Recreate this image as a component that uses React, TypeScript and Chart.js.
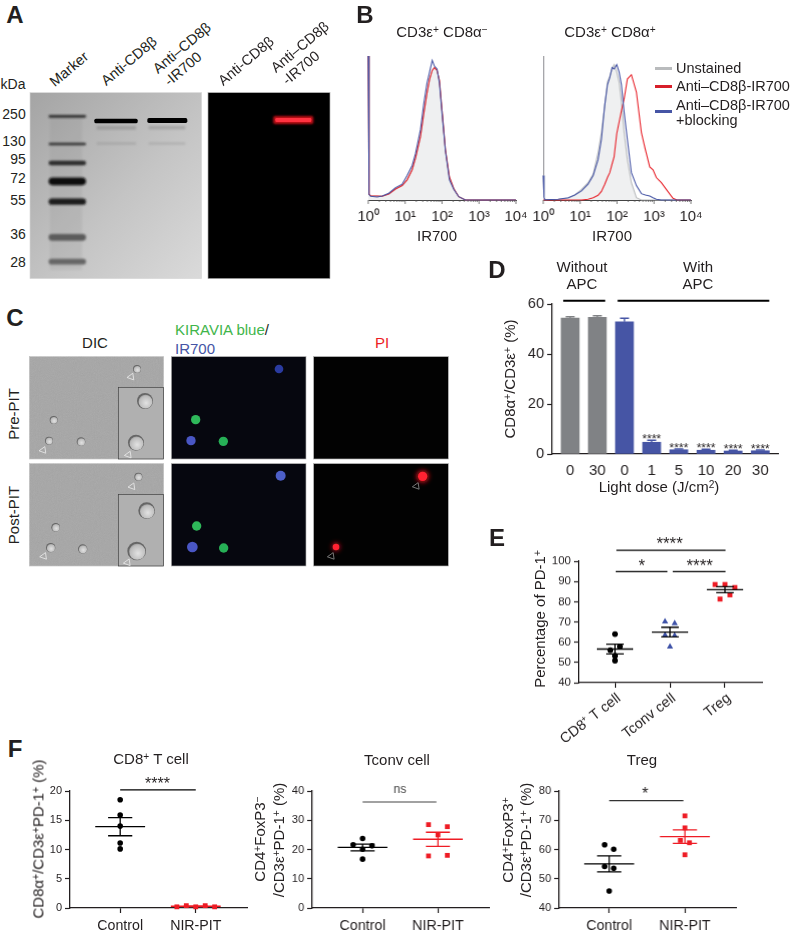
import React, { useEffect, useRef } from "react";
import { Chart, registerables } from "chart.js";

Chart.register(...registerables);
Chart.defaults.font.family = "'Liberation Sans', Arial, sans-serif";
Chart.defaults.color = "#231f20";

// ---------- Panel B: flow cytometry histograms ----------
const histLeftX = [1, 1.05, 1.16, 1.75, 2.4, 3.6, 5.5, 8.3, 11.3, 15.5, 19, 26, 32, 39, 46, 54, 62, 73, 85, 100, 123, 158, 207, 282, 427, 10000];
const histLeftGrey = [100, 4, 3, 2.8, 2.6, 4.2, 7.6, 10, 14, 21, 29, 44, 60, 74, 84, 90, 92, 90, 83, 62, 35, 16, 8, 2.3, 0, 0];
const histLeftRed = [100, 4, 3, 2.8, 2.6, 4.2, 7.6, 10, 14, 21, 29, 44, 60, 74, 84, 90, 92, 90, 83, 62, 35, 16, 8, 2.3, 0, 0];
const histLeftBlue = [100, 4, 2.6, 2.1, 2.8, 4.7, 8.6, 11, 17, 24, 32, 49, 67, 81, 89, 97, 93, 91, 81, 60, 34, 14, 7.5, 2.3, 0, 0];

const histRightX = [1, 1.05, 1.11, 2.54, 4.74, 7.17, 10.9, 16.4, 22.5, 30.6, 37.7, 46.4, 54.8, 63.4, 73.2, 83, 98, 113, 131, 155, 190, 244, 333, 455, 583, 764, 940, 1156, 1578, 2153, 3263, 4187, 10000];
const histRightGrey = [17, 2, 0.2, 0.5, 1.2, 3.5, 7.4, 12, 18, 33, 47, 66, 82, 86, 91, 94, 89, 82, 68, 47, 28, 12, 1.6, 0, 0, 0, 0, 0, 0, 0, 0, 0, 0];
const histRightRed = [0, 0, 0, 0, 0, 0, 0, 0.5, 1.6, 3.3, 6, 11, 15.6, 19, 25, 30, 46, 54, 62, 70, 84, 87, 75, 47, 35, 23, 21, 15.6, 12, 7.4, 1.2, 0, 0];
const histRightBlue = [17, 2, 0.2, 0.5, 1.6, 3.5, 6.3, 11, 17, 28, 42, 66, 80, 85, 92, 91, 94, 89, 80, 61, 42, 19, 10, 4.4, 3.5, 2.8, 1.6, 0.5, 0, 0, 0, 0, 0];
const logDecadeLabels: Record<number, string> = { 1: "10⁰", 10: "10¹", 100: "10²", 1000: "10³", 10000: "10⁴" };

// ---------- Panel D: bars ----------
const doseLabels = ["0", "30", "0", "1", "5", "10", "20", "30"];
const doseValues = [54.4, 54.7, 52.9, 4.7, 1.7, 1.5, 1.2, 1.3];
const doseErrors = [0.5, 0.6, 1.4, 0.8, 0.3, 0.4, 0.3, 0.3];
const doseStars = ["", "", "", "****", "****", "****", "****", "****"];

// ---------- Panel E ----------
const eLabels = ["CD8⁺ T cell", "Tconv cell", "Treg"];
const eCd8X = [0, -0.085, 0.09, 0, 0];
const eCd8Y = [64, 56.1, 57.9, 53.3, 50.9];
const eTconvX = [0.91, 1.085, 0.91, 1.085, 1];
const eTconvY = [70.2, 69.3, 63.5, 63.2, 57.8];
const eTregX = [1.82, 2, 2.18, 2.09, 1.91];
const eTregY = [88.5, 88.5, 87, 83.4, 81.3];
const eMeans = [56.6, 65, 85.9];
const eSems = [2.4, 2.4, 1.5];

// ---------- Panel F ----------
const fLabels = ["Control", "NIR-PIT"];
const fCd8CtrlX = [0, 0, 0, 0, 0];
const fCd8CtrlY = [18.5, 15.9, 14.0, 11.1, 10.1];
const fCd8NirX = [0.75, 0.875, 1, 1.125, 1.25];
const fCd8NirY = [0.2, 0.4, 0.2, 0.4, 0.2];
const fCd8Means = [13.9, 0.3];
const fCd8Sems = [1.55, 0.05];

const fTconvCtrlX = [0, -0.125, 0.125, 0, 0];
const fTconvCtrlY = [23.75, 21.6, 21.25, 20.1, 16.7];
const fTconvNirX = [0.875, 1.125, 1, 0.875, 1.125];
const fTconvNirY = [28.5, 27.8, 25, 17.8, 18];
const fTconvMeans = [20.7, 23.5];
const fTconvSems = [1.15, 2.4];

const fTregCtrlX = [-0.06, 0.06, -0.06, 0.06, 0];
const fTregCtrlY = [61.6, 60.1, 54.2, 53.6, 45.8];
const fTregNirX = [1, 1, 0.94, 1.06, 1];
const fTregNirY = [71.5, 67.4, 63.1, 62.3, 58.2];
const fTregMeans = [55.1, 64.4];
const fTregSems = [2.75, 2.3];

const BLACK = "#000000";
const BLUE = "#4655a5";
const RED = "#ee1c25";
const GREY = "#808285";
const INK = "#231f20";
const FONT = "'Liberation Sans', Arial, sans-serif";

type Plot = { x0: number; y0: number; x1: number; y1: number; mb?: number };
type Note = { x0?: number; x1?: number; y?: number; lw?: number; color?: string; text?: string; tx?: number; ty?: number; size?: number; star?: boolean };

const MARGIN = { l: 46, r: 22, t: 44, b: 50 };
const marginB = (p: Plot) => p.mb ?? MARGIN.b;

function zip(xs: number[], ys: number[]) {
  return xs.map((x, i) => ({ x, y: ys[i] }));
}

function axisX(plot: Plot, extra: any) {
  return {
    type: "linear",
    afterFit: (s: any) => { s.height = marginB(plot); },
    border: { color: INK, width: 1.3 },
    grid: { drawOnChartArea: false, color: INK, tickLength: 5, tickWidth: 1.2 },
    ...extra,
  };
}

function axisY(min: number, max: number, step: number, size: number, padding = 3) {
  return {
    type: "linear",
    min,
    max,
    afterFit: (s: any) => { s.width = MARGIN.l; },
    border: { color: INK, width: 1.3 },
    grid: { drawOnChartArea: false, color: INK, tickLength: 5, tickWidth: 1.2 },
    ticks: { stepSize: step, font: { size }, padding, color: INK },
  };
}

function fixedTicks(values: number[]) {
  return (s: any) => { s.ticks = values.map((value) => ({ value })); };
}

function notesPlugin(notes: Note[]) {
  return {
    id: "notes",
    afterDraw(chart: any) {
      const { ctx, scales } = chart;
      ctx.save();
      for (const n of notes) {
        if (n.x0 !== undefined) {
          ctx.strokeStyle = n.color || BLACK;
          ctx.lineWidth = n.lw || 1;
          ctx.beginPath();
          ctx.moveTo(scales.x.getPixelForValue(n.x0), scales.y.getPixelForValue(n.y));
          ctx.lineTo(scales.x.getPixelForValue(n.x1), scales.y.getPixelForValue(n.y));
          ctx.stroke();
        }
        if (n.text) {
          const size = n.size || 16;
          ctx.fillStyle = n.color || INK;
          ctx.font = `${size}px ${FONT}`;
          ctx.textAlign = "center";
          ctx.textBaseline = "alphabetic";
          const off = n.star ? 0.58 * size : 0.35 * size;
          ctx.fillText(n.text, scales.x.getPixelForValue(n.tx), scales.y.getPixelForValue(n.ty) + off);
        }
      }
      ctx.restore();
    },
  };
}

function statsPlugin(means: number[], sems: number[], colors: string[], half = 0.33, cap = 0.16) {
  return {
    id: "stats",
    afterDatasetsDraw(chart: any) {
      const { ctx, scales } = chart;
      ctx.save();
      ctx.lineWidth = 1.3;
      means.forEach((m, i) => {
        const px = (v: number) => scales.x.getPixelForValue(v);
        const py = (v: number) => scales.y.getPixelForValue(v);
        ctx.strokeStyle = colors[i];
        ctx.beginPath();
        ctx.moveTo(px(i - half), py(m));
        ctx.lineTo(px(i + half), py(m));
        ctx.moveTo(px(i - cap), py(m + sems[i]));
        ctx.lineTo(px(i + cap), py(m + sems[i]));
        ctx.moveTo(px(i - cap), py(m - sems[i]));
        ctx.lineTo(px(i + cap), py(m - sems[i]));
        ctx.moveTo(px(i), py(m + sems[i]));
        ctx.lineTo(px(i), py(m - sems[i]));
        ctx.stroke();
      });
      ctx.restore();
    },
  };
}

const barErrorPlugin = {
  id: "barErrors",
  afterDatasetsDraw(chart: any) {
    const { ctx, scales } = chart;
    ctx.save();
    ctx.lineWidth = 1.4;
    doseValues.forEach((v, i) => {
      const x = scales.x.getPixelForValue(i);
      const top = scales.y.getPixelForValue(v + doseErrors[i]);
      ctx.strokeStyle = i < 2 ? GREY : BLUE;
      ctx.beginPath();
      ctx.moveTo(x, scales.y.getPixelForValue(v));
      ctx.lineTo(x, top);
      ctx.moveTo(x - 4.5, top);
      ctx.lineTo(x + 4.5, top);
      ctx.stroke();
      if (doseStars[i]) {
        ctx.fillStyle = INK;
        ctx.font = `12px ${FONT}`;
        ctx.textAlign = "center";
        ctx.textBaseline = "alphabetic";
        ctx.fillText(doseStars[i], x, top + 2.7);
      }
    });
    ctx.restore();
  },
};

const logTicksPlugin = {
  id: "logTicks",
  afterDraw(chart: any) {
    const { ctx, scales } = chart;
    const s = scales.x;
    ctx.save();
    ctx.strokeStyle = "#555";
    ctx.lineWidth = 0.8;
    for (const t of s.ticks) {
      const major = logDecadeLabels[t.value] !== undefined;
      const x = s.getPixelForValue(t.value);
      ctx.beginPath();
      ctx.moveTo(x, s.top);
      ctx.lineTo(x, s.top + (major ? 4 : 2));
      ctx.stroke();
    }
    ctx.restore();
  },
};

function logTickValues() {
  const out: number[] = [];
  for (let d = 1; d < 10000; d *= 10) for (let m = 1; m < 10; m++) out.push(d * m);
  out.push(10000);
  return out;
}

function ChartBox({ plot, config }: { plot: Plot; config: any }) {
  const ref = useRef<HTMLCanvasElement>(null);
  const w = plot.x1 - plot.x0 + MARGIN.l + MARGIN.r;
  const h = plot.y1 - plot.y0 + MARGIN.t + marginB(plot);
  useEffect(() => {
    const c = config();
    c.options = {
      responsive: false,
      animation: false,
      layout: { padding: { top: MARGIN.t, right: MARGIN.r, left: 0, bottom: 0 } },
      ...c.options,
    };
    c.options.plugins = { legend: { display: false }, tooltip: { enabled: false }, title: { display: false } };
    const chart = new Chart(ref.current as HTMLCanvasElement, c);
    return () => chart.destroy();
  }, []);
  return (
    <canvas
      ref={ref}
      width={w}
      height={h}
      style={{ position: "absolute", left: plot.x0 - MARGIN.l, top: plot.y0 - MARGIN.t, width: w, height: h }}
    />
  );
}

function histConfig(xs: number[], grey: number[], red: number[], blue: number[]) {
  const line = (ys: number[], color: string) => ({
    data: zip(xs, ys), showLine: true, pointRadius: 0, borderColor: color, borderWidth: 1.1, clip: false, tension: 0,
  });
  return {
    type: "scatter",
    data: {
      datasets: [
        line(blue, "#4655a5"),
        line(red, "#e8232b"),
        { ...line(grey, "#b9bbbd"), fill: "origin", backgroundColor: "#eff0f1" },
      ],
    },
    options: {
      scales: {
        x: {
          type: "logarithmic",
          min: 1,
          max: 10000,
          afterFit: (s: any) => { s.height = MARGIN.b; },
          afterBuildTicks: fixedTicks(logTickValues()),
          border: { color: "#444", width: 1 },
          grid: { display: false },
          ticks: {
            autoSkip: false, maxRotation: 0, minRotation: 0, padding: 0,
            font: { size: 15 }, color: INK,
            callback: (v: number) => logDecadeLabels[v] || "",
          },
        },
        y: {
          type: "linear", min: 0, max: 100,
          afterFit: (s: any) => { s.width = MARGIN.l; },
          border: { color: "#8a8a8f", width: 1 },
          grid: { display: false },
          ticks: { display: false },
        },
      },
    },
    plugins: [logTicksPlugin],
  };
}

function barConfig(plot: Plot) {
  return {
    type: "bar",
    data: {
      datasets: [{
        data: doseValues.map((y, x) => ({ x, y })),
        backgroundColor: doseValues.map((_, i) => (i < 2 ? GREY : BLUE)),
        barThickness: 18,
      }],
    },
    options: {
      scales: {
        x: axisX(plot, {
          min: -0.663, max: 7.65, offset: false,
          afterBuildTicks: fixedTicks(doseLabels.map((_, i) => i)),
          grid: { display: false, offset: false },
          ticks: {
            autoSkip: false, maxRotation: 0, minRotation: 0, padding: 0, font: { size: 15 }, color: INK,
            callback: (v: number) => doseLabels[v] ?? "",
          },
        }),
        y: axisY(0, 60, 20, 14.5),
      },
    },
    plugins: [
      barErrorPlugin,
      notesPlugin([
        { x0: -0.258, x1: 1.29, y: 61.3, lw: 2 },
        { x0: 1.746, x1: 7.33, y: 61.3, lw: 2 },
      ]),
    ],
  };
}

function stripConfig(opts: {
  plot: Plot; groups: { xs: number[]; ys: number[]; color: string; style: string; r: number }[];
  labels: string[]; xMin: number; xMax: number; yMin: number; yMax: number; yStep: number; tick: number;
  means: number[]; sems: number[]; colors: string[]; notes: Note[]; rotate?: boolean; xFont: number; half?: number; cap?: number;
}) {
  return {
    type: "scatter",
    data: {
      datasets: opts.groups.map((g) => ({
        data: zip(g.xs, g.ys), backgroundColor: g.color, borderColor: g.color, borderWidth: 0,
        pointStyle: g.style, pointRadius: g.r, clip: false,
      })),
    },
    options: {
      scales: {
        x: axisX(opts.plot, {
          min: opts.xMin, max: opts.xMax,
          afterBuildTicks: fixedTicks(opts.labels.map((_, i) => i)),
          ticks: {
            autoSkip: false, maxRotation: opts.rotate ? 38 : 0, minRotation: opts.rotate ? 38 : 0,
            padding: opts.rotate ? 2 : 5, labelOffset: opts.rotate ? 4 : 0, font: { size: opts.xFont }, color: INK,
            callback: (v: number) => opts.labels[v] ?? "",
          },
        }),
        y: axisY(opts.yMin, opts.yMax, opts.yStep, opts.tick),
      },
    },
    plugins: [statsPlugin(opts.means, opts.sems, opts.colors, opts.half, opts.cap), notesPlugin(opts.notes)],
  };
}

function T({ x, y, size = 15, rot = 0, color = INK, left = false, weight = 400, children }: any) {
  return (
    <div
      style={{
        position: "absolute", left: x, top: y, whiteSpace: "nowrap", fontFamily: FONT, fontSize: size, color, fontWeight: weight,
        lineHeight: 1, transform: `translate(${left ? "0" : "-50%"},-50%) rotate(${rot}deg)`,
      }}
    >
      {children}
    </div>
  );
}

function Up({ children }: any) {
  return <span style={{ fontSize: "0.68em", position: "relative", top: "-0.42em" }}>{children}</span>;
}

function Tri({ x, y, dark = false }: { x: number; y: number; dark?: boolean }) {
  return (
    <polygon
      points={`${x + 9},${y - 10} ${x + 9},${y + 10} ${x - 10},${y}`}
      fill="none"
      stroke={dark ? "#8a8a8a" : "#e8e8e8"}
      strokeWidth={2.4}
      transform={`rotate(-8 ${x} ${y})`}
    />
  );
}

function Cell({ x, y, r }: { x: number; y: number; r: number }) {
  return (
    <g filter="url(#b05)">
      <circle cx={x} cy={y} r={r} fill="#666" />
      <circle cx={x + r * 0.06} cy={y + r * 0.08} r={r * 0.86} fill="url(#cellFill)" />
    </g>
  );
}

function Glow({ x, y, r, color, blur = "b2" }: { x: number; y: number; r: number; color: string; blur?: string }) {
  return <circle cx={x} cy={y} r={r} fill={color} filter={`url(#${blur})`} />;
}

function Photos() {
  const markers: [number, number, string][] = [
    [349, 8, "#2c2c2c"], [432, 8, "#333"], [489, 14, "#2a2a2a"], [544, 23, "#111"], [605, 19, "#1c1c1c"], [712, 20, "#5c5c5c"], [785, 17, "#666"],
  ];
  return (
    <svg width={793} height={932} style={{ position: "absolute", left: 0, top: 0 }}>
      <defs>
        <linearGradient id="gel" x1="0" y1="0" x2="1" y2="1">
          <stop offset="0" stopColor="#a4a4a4" />
          <stop offset="0.55" stopColor="#c4c4c4" />
          <stop offset="1" stopColor="#dadada" />
        </linearGradient>
        <radialGradient id="cellFill" cx="0.55" cy="0.6" r="0.7">
          <stop offset="0" stopColor="#e2e2e2" />
          <stop offset="0.7" stopColor="#bcbcbc" />
          <stop offset="1" stopColor="#858585" />
        </radialGradient>
        <filter id="b05" x="-30%" y="-30%" width="160%" height="160%"><feGaussianBlur stdDeviation="1.2" /></filter>
        <filter id="b1" x="-50%" y="-150%" width="200%" height="400%"><feGaussianBlur stdDeviation="3" /></filter>
        <filter id="b2" x="-100%" y="-100%" width="300%" height="300%"><feGaussianBlur stdDeviation="2.2" /></filter>
        <filter id="b4" x="-150%" y="-150%" width="400%" height="400%"><feGaussianBlur stdDeviation="6" /></filter>
        <filter id="noise" x="0" y="0" width="100%" height="100%">
          <feTurbulence type="fractalNoise" baseFrequency="0.35" numOctaves="2" seed="3" />
          <feColorMatrix type="saturate" values="0" />
        </filter>
      </defs>

      {/* Panel A photographs */}
      <g transform="scale(0.33333)">
        <rect x="90" y="278" width="515" height="558" fill="url(#gel)" stroke="#d8d8d8" strokeWidth="2" />
        <rect x="150" y="350" width="96" height="460" fill="#888" opacity="0.16" filter="url(#b1)" />
        {markers.map(([y, h, c], i) => (
          <rect key={i} x={146} y={y - h / 2} width={112} height={h} rx={h / 2} fill={c} filter="url(#b1)" />
        ))}
        <rect x="283" y="356" width="130" height="14" rx="5" fill="#000" filter="url(#b05)" />
        <rect x="442" y="354" width="120" height="15" rx="5" fill="#000" filter="url(#b05)" />
        <rect x="290" y="378" width="118" height="11" fill="#8a8a8a" opacity="0.55" filter="url(#b1)" />
        <rect x="446" y="378" width="110" height="10" fill="#8a8a8a" opacity="0.5" filter="url(#b1)" />
        <rect x="290" y="427" width="118" height="7" fill="#8a8a8a" opacity="0.4" filter="url(#b1)" />
        <rect x="446" y="427" width="110" height="7" fill="#8a8a8a" opacity="0.35" filter="url(#b1)" />
        <rect x="624" y="278" width="366" height="558" fill="#000" stroke="#b0b0b0" strokeWidth="2" />
        <rect x="820" y="348" width="120" height="24" rx="5" fill="#c01018" filter="url(#b1)" />
        <rect x="826" y="354" width="108" height="12" rx="4" fill="#ff3040" filter="url(#b05)" />
      </g>

      {/* Panel C photographs */}
      <g transform="translate(0 300) scale(0.33333)">
        {[170, 491].map((y) => (
          <g key={y}>
            <rect x="88" y={y} width="403" height="307" fill="#a6a6a6" stroke="#c4c4c4" strokeWidth="2" />
            <rect x="88" y={y} width="403" height="307" filter="url(#noise)" opacity="0.14" />
            <rect x="514" y={y} width="404" height="307" fill="#06070f" stroke="#b0b0b0" strokeWidth="2" />
            <rect x="941" y={y} width="404" height="307" fill="#020202" stroke="#b0b0b0" strokeWidth="2" />
          </g>
        ))}
        <rect x="355" y="262" width="136" height="215" fill="#b0b0b0" stroke="#3c3c3c" strokeWidth="2" />
        <rect x="355" y="584" width="136" height="214" fill="#b0b0b0" stroke="#3c3c3c" strokeWidth="2" />

        <Cell x={411} y={207} r={12} />
        <Cell x={161} y={360} r={12} />
        <Cell x={147} y={422} r={12} />
        <Cell x={243} y={425} r={13} />
        <Cell x={435} y={303} r={24} />
        <Cell x={408} y={428} r={24} />
        <Tri x={391} y={231} />
        <Tri x={127} y={451} />
        <Tri x={383} y={465} />

        <Cell x={415} y={530} r={12} />
        <Cell x={167} y={682} r={13} />
        <Cell x={152} y={743} r={14} />
        <Cell x={248} y={747} r={14} />
        <Cell x={440} y={632} r={25} />
        <Cell x={410} y={753} r={28} />
        <Tri x={394} y={560} />
        <Tri x={129} y={769} />
        <Tri x={380} y={788} />

        <Glow x={837} y={207} r={13} color="#2a3aa0" />
        <Glow x={587} y={359} r={14} color="#2fb85a" />
        <Glow x={573} y={422} r={14} color="#4a56c4" />
        <Glow x={670} y={424} r={14} color="#27b056" />
        <Glow x={842} y={527} r={15} color="#4e5ec8" />
        <Glow x={590} y={678} r={14} color="#2fb85a" />
        <Glow x={577} y={741} r={16} color="#4a56c4" />
        <Glow x={671} y={744} r={14} color="#27b056" />

        <Glow x={1268} y={529} r={20} color="#a01018" blur="b4" />
        <Glow x={1268} y={529} r={14} color="#ff2030" />
        <Glow x={1008} y={741} r={14} color="#801018" blur="b4" />
        <Glow x={1008} y={741} r={10} color="#ff2030" />
        <Tri x={1247} y={559} dark />
        <Tri x={992} y={769} dark />
      </g>
    </svg>
  );
}

const plotHistL: Plot = { x0: 368, y0: 56, x1: 515.7, y1: 200 };
const plotHistR: Plot = { x0: 543, y0: 56, x1: 690.7, y1: 200 };
const plotD: Plot = { x0: 552.3, y0: 304, x1: 778, y1: 454 };
const plotE: Plot = { x0: 579.3, y0: 561, x1: 762.3, y1: 682.7, mb: 80 };
const plotF1: Plot = { x0: 70, y0: 791, x1: 247.3, y1: 908.3 };
const plotF2: Plot = { x0: 312.3, y0: 791, x1: 489, y1: 908.3 };
const plotF3: Plot = { x0: 559, y0: 791, x1: 735.7, y1: 908.3 };

export default function App() {
  return (
    <div style={{ position: "absolute", left: 0, top: 0, width: 793, height: 932, overflow: "hidden", background: "#fff" }}>
      <Photos />

      <ChartBox plot={plotHistL} config={() => histConfig(histLeftX, histLeftGrey, histLeftRed, histLeftBlue)} />
      <ChartBox plot={plotHistR} config={() => histConfig(histRightX, histRightGrey, histRightRed, histRightBlue)} />
      <ChartBox plot={plotD} config={() => barConfig(plotD)} />
      <ChartBox
        plot={plotE}
        config={() =>
          stripConfig({
            plot: plotE,
            groups: [
              { xs: eCd8X, ys: eCd8Y, color: BLACK, style: "circle", r: 2.9 },
              { xs: eTconvX, ys: eTconvY, color: "#3f53a8", style: "triangle", r: 3.6 },
              { xs: eTregX, ys: eTregY, color: RED, style: "rect", r: 3.5 },
            ],
            labels: eLabels, xMin: -0.655, xMax: 2.673, yMin: 40, yMax: 100, yStep: 10, tick: 11.5,
            means: eMeans, sems: eSems, colors: [BLACK, BLACK, BLACK], rotate: true, xFont: 14.4,
            notes: [
              { x0: 0.025, x1: 2.01, y: 105.4, lw: 1.2 },
              { x0: 0.013, x1: 0.953, y: 94.9, lw: 1.2 },
              { x0: 1.05, x1: 2.01, y: 94.9, lw: 1.2 },
              { text: "****", tx: 0.993, ty: 110.8, size: 17, star: true },
              { text: "*", tx: 0.485, ty: 100.1, size: 17, star: true },
              { text: "****", tx: 1.54, ty: 100.1, size: 17, star: true },
            ],
          })
        }
      />
      <ChartBox
        plot={plotF1}
        config={() =>
          stripConfig({
            plot: plotF1,
            groups: [
              { xs: fCd8CtrlX, ys: fCd8CtrlY, color: BLACK, style: "circle", r: 2.8 },
              { xs: fCd8NirX, ys: fCd8NirY, color: RED, style: "rect", r: 3.4 },
            ],
            labels: fLabels, xMin: -0.664, xMax: 1.678, yMin: 0, yMax: 20, yStep: 5, tick: 11,
            means: fCd8Means, sems: fCd8Sems, colors: [BLACK, RED], xFont: 14.2,
            notes: [
              { x0: 0, x1: 1, y: 20.2, lw: 1.1 },
              { text: "****", tx: 0.494, ty: 21.9, size: 16, star: true },
            ],
          })
        }
      />
      <ChartBox
        plot={plotF2}
        config={() =>
          stripConfig({
            plot: plotF2,
            groups: [
              { xs: fTconvCtrlX, ys: fTconvCtrlY, color: BLACK, style: "circle", r: 2.8 },
              { xs: fTconvNirX, ys: fTconvNirY, color: RED, style: "rect", r: 3.4 },
            ],
            labels: fLabels, xMin: -0.669, xMax: 1.677, yMin: 0, yMax: 40, yStep: 10, tick: 11,
            means: fTconvMeans, sems: fTconvSems, colors: [BLACK, RED], xFont: 14.2,
            notes: [
              { x0: 0, x1: 0.98, y: 36.25, lw: 1.1, color: "#444" },
              { text: "ns", tx: 0.495, ty: 40.7, size: 12, color: "#444" },
            ],
          })
        }
      />
      <ChartBox
        plot={plotF3}
        config={() =>
          stripConfig({
            plot: plotF3,
            groups: [
              { xs: fTregCtrlX, ys: fTregCtrlY, color: BLACK, style: "circle", r: 2.8 },
              { xs: fTregNirX, ys: fTregNirY, color: RED, style: "rect", r: 3.4 },
            ],
            labels: fLabels, xMin: -0.66, xMax: 1.674, yMin: 40, yMax: 80, yStep: 10, tick: 11,
            means: fTregMeans, sems: fTregSems, colors: [BLACK, RED], xFont: 14.2,
            notes: [
              { x0: 0, x1: 0.98, y: 76.7, lw: 1.1, color: "#333" },
              { text: "*", tx: 0.476, ty: 80.3, size: 16, star: true },
            ],
          })
        }
      />

      {/* Panel letters */}
      <T x={15} y={15} size={24} weight={700}>A</T>
      <T x={365} y={15} size={24} weight={700}>B</T>
      <T x={15} y={318} size={24} weight={700}>C</T>
      <T x={497} y={270} size={24} weight={700}>D</T>
      <T x={497} y={538} size={24} weight={700}>E</T>
      <T x={15} y={749} size={24} weight={700}>F</T>

      {/* Panel A text */}
      <T x={69} y={69} rot={-40} size={14.5}>Marker</T>
      <T x={129} y={61} rot={-40} size={14.5}>Anti-CD8β</T>
      <T x={182} y={48} rot={-40} size={14.5}>Anti–CD8β</T>
      <T x={183} y={69} rot={-40} size={14.5}>-IR700</T>
      <T x={246} y={61} rot={-40} size={14.5}>Anti-CD8β</T>
      <T x={300} y={47} rot={-40} size={14.5}>Anti–CD8β</T>
      <T x={301} y={68} rot={-40} size={14.5}>-IR700</T>
      <T x={13} y={84} size={14}>kDa</T>
      <T x={14} y={114} size={14}>250</T>
      <T x={14} y={141} size={14}>130</T>
      <T x={18} y={158.7} size={14}>95</T>
      <T x={18} y={177.7} size={14}>72</T>
      <T x={18} y={200} size={14}>55</T>
      <T x={18} y={234} size={14}>36</T>
      <T x={18} y={261.7} size={14}>28</T>

      {/* Panel B text */}
      <T x={442} y={32}>CD3ε<Up>+</Up> CD8α<Up>−</Up></T>
      <T x={610} y={32}>CD3ε<Up>+</Up> CD8α<Up>+</Up></T>
      <T x={437} y={235}>IR700</T>
      <T x={612} y={235}>IR700</T>
      <div style={{ position: "absolute", left: 655, top: 66.5, width: 17, height: 3, background: "#b9bbbd" }} />
      <div style={{ position: "absolute", left: 655, top: 85, width: 17, height: 3, background: "#d71f2a" }} />
      <div style={{ position: "absolute", left: 655, top: 110, width: 17, height: 3, background: "#4655a5" }} />
      <T x={676} y={68} left size={14.5}>Unstained</T>
      <T x={676} y={86} left size={14.5}>Anti–CD8β-IR700</T>
      <T x={676} y={105} left size={14.5}>Anti–CD8β-IR700</T>
      <T x={676} y={120} left size={14.5}>+blocking</T>

      {/* Panel C text */}
      <T x={95} y={342}>DIC</T>
      <T x={175} y={329} left><span style={{ color: "#3fb54a" }}>KIRAVIA blue</span>/</T>
      <T x={175} y={348} left color="#4655a5">IR700</T>
      <T x={382} y={342} color="#ed1c24">PI</T>
      <T x={13} y={414} rot={-90} size={15}>Pre-PIT</T>
      <T x={13} y={515} rot={-90} size={15}>Post-PIT</T>

      {/* Panel D text */}
      <T x={582} y={266}>Without</T>
      <T x={582} y={283}>APC</T>
      <T x={698} y={266}>With</T>
      <T x={698} y={283}>APC</T>
      <T x={510} y={379} rot={-90} size={15}>CD8α<Up>+</Up>/CD3ε<Up>+</Up> (%)</T>
      <T x={659} y={487}>Light dose (J/cm<Up>2</Up>)</T>

      {/* Panel E text */}
      <T x={540} y={619} rot={-90} size={15}>Percentage of PD-1<Up>+</Up></T>

      {/* Panel F text */}
      <T x={151} y={759}>CD8<Up>+</Up> T cell</T>
      <T x={397} y={759}>Tconv cell</T>
      <T x={642} y={759}>Treg</T>
      <T x={38} y={839} rot={-90} size={15}>CD8α<Up>+</Up>/CD3ε<Up>+</Up>PD-1<Up>+</Up> (%)</T>
      <T x={260} y={839} rot={-90} size={15}>CD4<Up>+</Up>FoxP3<Up>−</Up></T>
      <T x={279} y={840} rot={-90} size={15}>/CD3ε<Up>+</Up>PD-1<Up>+</Up> (%)</T>
      <T x={508} y={840} rot={-90} size={15}>CD4<Up>+</Up>FoxP3<Up>+</Up></T>
      <T x={526} y={840} rot={-90} size={15}>/CD3ε<Up>+</Up>PD-1<Up>+</Up> (%)</T>
    </div>
  );
}
